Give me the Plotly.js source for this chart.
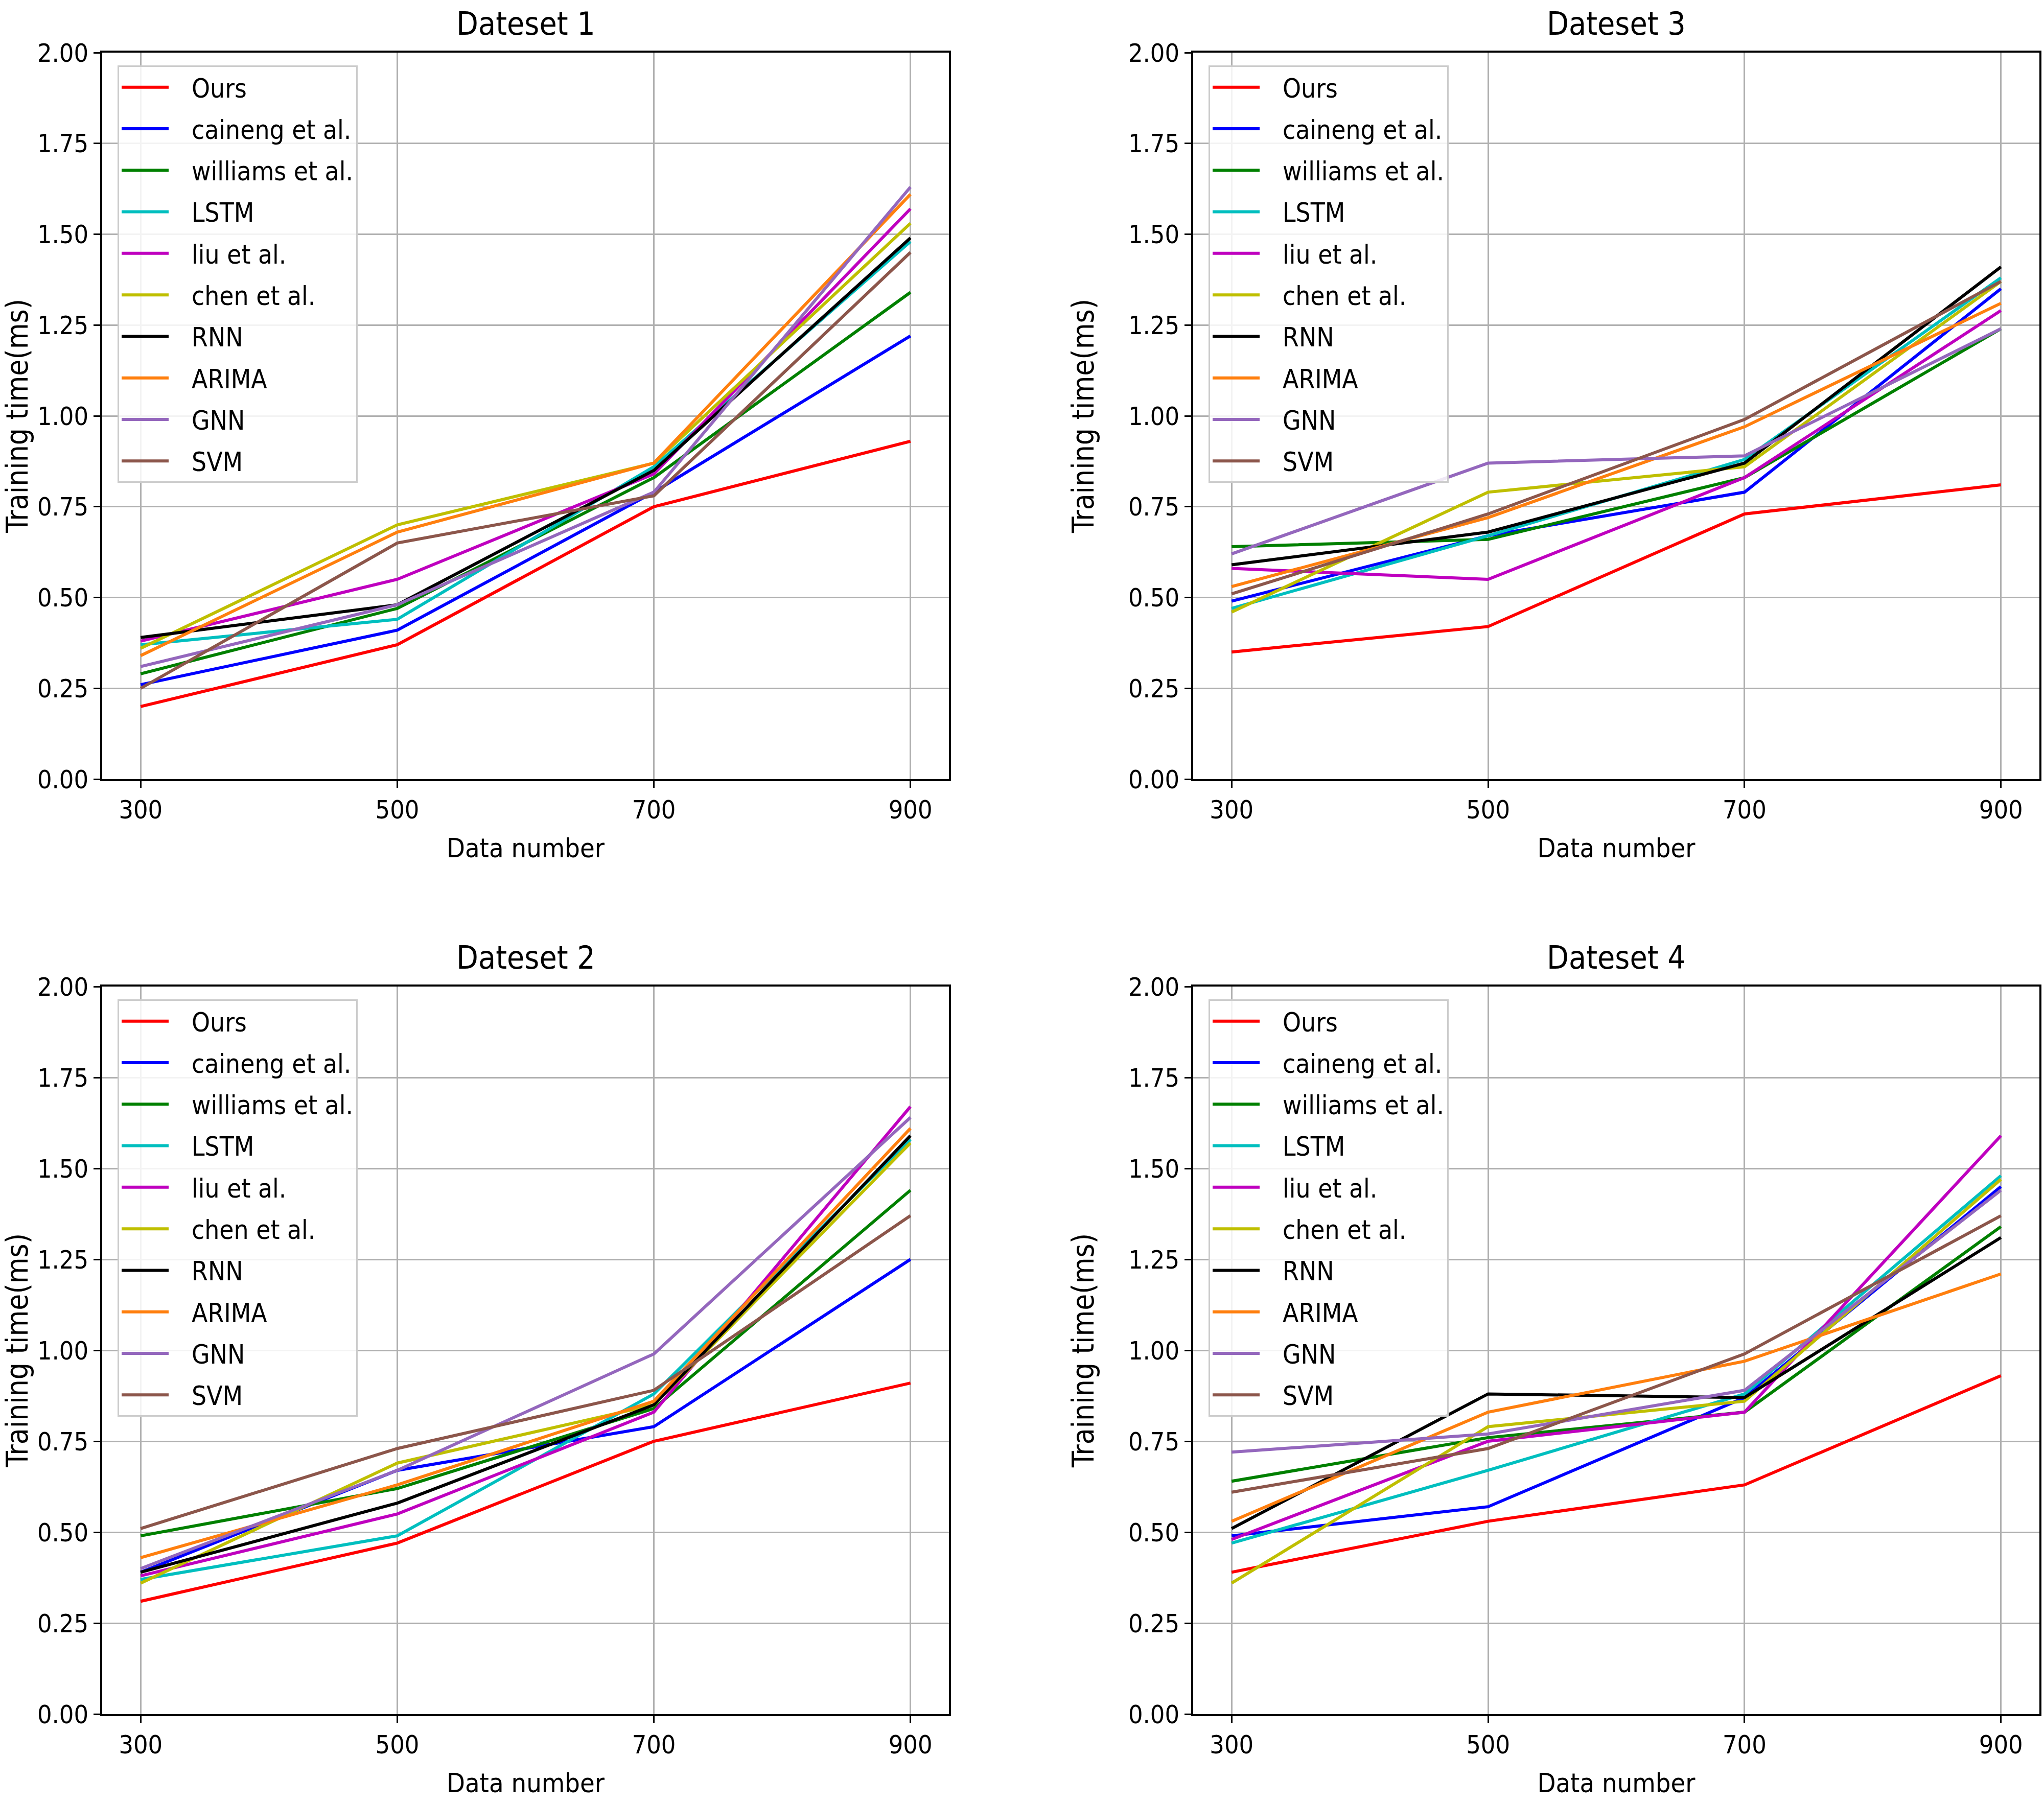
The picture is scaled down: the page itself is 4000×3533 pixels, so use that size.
<!DOCTYPE html>
<html>
<head>
<meta charset="utf-8">
<script src="https://cdn.plot.ly/plotly-3.0.1.min.js"></script>
<style>html,body{margin:0;padding:0;background:#fff}#chart{width:4000px;height:3533px}</style>
</head>
<body>
<div id="chart"></div>
<script>
// ---- data ----
const dataNumber = [300, 500, 700, 900];
const methods = ["Ours", "caineng et al.", "williams et al.", "LSTM", "liu et al.", "chen et al.", "RNN", "ARIMA", "GNN", "SVM"];
const panelTitles = ["Dateset 1", "Dateset 3", "Dateset 2", "Dateset 4"];
const yTickVals = [0, 0.25, 0.5, 0.75, 1.0, 1.25, 1.5, 1.75, 2.0];

// rows follow the order of `methods`
const dataset1 = [
  [0.20, 0.37, 0.75, 0.93],
  [0.26, 0.41, 0.79, 1.22],
  [0.29, 0.47, 0.83, 1.34],
  [0.37, 0.44, 0.86, 1.48],
  [0.38, 0.55, 0.84, 1.57],
  [0.36, 0.70, 0.87, 1.53],
  [0.39, 0.48, 0.85, 1.49],
  [0.34, 0.68, 0.87, 1.61],
  [0.31, 0.48, 0.79, 1.63],
  [0.25, 0.65, 0.78, 1.45]
];
const dataset3 = [
  [0.35, 0.42, 0.73, 0.81],
  [0.49, 0.67, 0.79, 1.35],
  [0.64, 0.66, 0.83, 1.24],
  [0.47, 0.67, 0.88, 1.38],
  [0.58, 0.55, 0.83, 1.29],
  [0.46, 0.79, 0.86, 1.37],
  [0.59, 0.68, 0.87, 1.41],
  [0.53, 0.72, 0.97, 1.31],
  [0.62, 0.87, 0.89, 1.24],
  [0.51, 0.73, 0.99, 1.37]
];
const dataset2 = [
  [0.31, 0.47, 0.75, 0.91],
  [0.39, 0.67, 0.79, 1.25],
  [0.49, 0.62, 0.84, 1.44],
  [0.37, 0.49, 0.88, 1.58],
  [0.38, 0.55, 0.83, 1.67],
  [0.36, 0.69, 0.85, 1.57],
  [0.39, 0.58, 0.85, 1.59],
  [0.43, 0.63, 0.86, 1.61],
  [0.40, 0.67, 0.99, 1.64],
  [0.51, 0.73, 0.89, 1.37]
];
const dataset4 = [
  [0.39, 0.53, 0.63, 0.93],
  [0.49, 0.57, 0.87, 1.45],
  [0.64, 0.76, 0.83, 1.34],
  [0.47, 0.67, 0.88, 1.48],
  [0.48, 0.75, 0.83, 1.59],
  [0.36, 0.79, 0.86, 1.47],
  [0.51, 0.88, 0.87, 1.31],
  [0.53, 0.83, 0.97, 1.21],
  [0.72, 0.77, 0.89, 1.44],
  [0.61, 0.73, 0.99, 1.37]
];

// ---- styles ----
const colors = ["#ff0000", "#0000ff", "#008000", "#00bfbf", "#bf00bf", "#bfbf00", "#000000", "#ff7f0e", "#9467bd", "#8c564b"];
const FONT = "DejaVu Sans Condensed, DejaVu Sans, sans-serif";
const W = 4000, H = 3533;

// panel geometry in pixels: [left, right, top, bottom]
const panels = [
  {data: dataset1, box: [200, 1857, 103, 1525]},
  {data: dataset3, box: [2335, 3991, 103, 1525]},
  {data: dataset2, box: [200, 1857, 1931, 3355]},
  {data: dataset4, box: [2335, 3991, 1931, 3355]}
];

const traces = [];
const layout = {
  width: W, height: H,
  margin: {l: 0, r: 0, t: 0, b: 0},
  paper_bgcolor: "#ffffff",
  plot_bgcolor: "#ffffff",
  font: {family: FONT, size: 50, color: "#000"},
  showlegend: true,
  annotations: []
};

panels.forEach((p, i) => {
  const n = i + 1;
  const xa = n === 1 ? "x" : "x" + n;
  const ya = n === 1 ? "y" : "y" + n;
  const lg = n === 1 ? "legend" : "legend" + n;
  const [l, r, t, b] = p.box;

  p.data.forEach((vals, k) => {
    traces.push({
      type: "scatter", mode: "lines",
      x: dataNumber, y: vals,
      name: methods[k],
      xaxis: xa, yaxis: ya,
      legend: lg,
      legendgroup: "p" + n + "_" + k,
      line: {color: colors[k], width: 6}
    });
  });

  const axCommon = {
    showline: true, linecolor: "#000", linewidth: 4, mirror: true,
    ticks: "outside", ticklen: 13, tickwidth: 3, tickcolor: "#000",
    showgrid: true, gridcolor: "#b0b0b0", gridwidth: 3,
    zeroline: false, fixedrange: true,
    tickfont: {family: FONT, size: 50, color: "#000"}
  };
  layout["xaxis" + (n === 1 ? "" : n)] = Object.assign({}, axCommon, {
    domain: [l / W, r / W],
    anchor: ya,
    range: [270, 930],
    tickvals: dataNumber,
    ticktext: dataNumber.map(String),
    title: {text: "Data number", font: {family: FONT, size: 52, color: "#000"}, standoff: 30}
  });
  layout["yaxis" + (n === 1 ? "" : n)] = Object.assign({}, axCommon, {
    domain: [1 - b / H, 1 - t / H],
    anchor: xa,
    range: [0, 2],
    tickvals: yTickVals,
    tickformat: ".2f",
    title: {text: "Training time(ms)", font: {family: FONT, size: 58, color: "#000"}, standoff: 50}
  });
  layout[lg] = {
    x: (l + 30) / W, y: 1 - (t + 25) / H,
    xanchor: "left", yanchor: "top",
    bgcolor: "rgba(255,255,255,0.85)",
    bordercolor: "#cccccc", borderwidth: 3,
    font: {family: FONT, size: 51, color: "#000"},
    traceorder: "grouped", tracegroupgap: 12,
    itemwidth: 132
  };
  layout.annotations.push({
    text: panelTitles[i], xref: "paper", yref: "paper",
    x: (l + r) / 2 / W, y: 1 - (t - 18) / H,
    xanchor: "center", yanchor: "bottom", showarrow: false,
    font: {family: FONT, size: 62, color: "#000"}
  });
});

Plotly.newPlot("chart", traces, layout, {displayModeBar: false, staticPlot: true}).then(gd => {
  // shorten legend line samples so a gap remains before the label, as in the reference
  gd.querySelectorAll(".legendlines path").forEach(pth => {
    const d = pth.getAttribute("d") || "";
    const m = d.match(/^M([-\d.]+),([-\d.]+)/);
    if (m) pth.setAttribute("d", "M" + m[1] + "," + m[2] + "h92");
  });
});
</script>
</body>
</html>
